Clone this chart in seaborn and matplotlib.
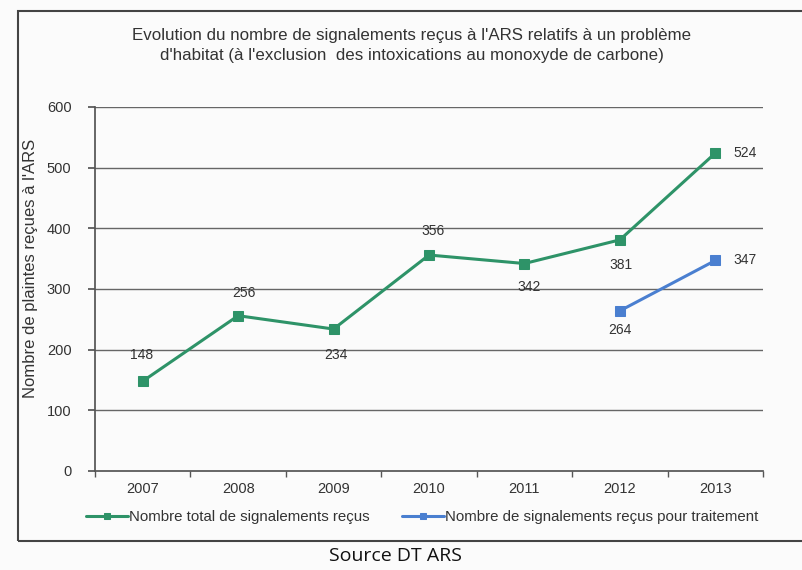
import matplotlib
matplotlib.use("Agg")
import matplotlib.pyplot as plt
import seaborn as sns
import pandas as pd
import numpy as np
from matplotlib.patches import Rectangle

years = ["2007", "2008", "2009", "2010", "2011", "2012", "2013"]
total = [148, 256, 234, 356, 342, 381, 524]
trait_years = ["2012", "2013"]
traitement = [264, 347]
yticks = [0, 100, 200, 300, 400, 500, 600]

sns.set_theme(style="white")
plt.rcParams['font.family'] = ['Liberation Sans', 'DejaVu Sans']

W, H = 802, 570
fig = plt.figure(figsize=(W / 100, H / 100), dpi=100)
fig.patch.set_facecolor("#fbfbfb")
ax = fig.add_axes([95 / W, 1 - 471 / H, (763 - 95) / W, (471 - 107) / H])
ax.set_facecolor("#fbfbfb")

green = "#2e9368"
blue = "#4a7fd0"

xpos = {y: i for i, y in enumerate(years)}
df1 = pd.DataFrame({"x": [xpos[y] for y in years], "val": total})
df2 = pd.DataFrame({"x": [xpos[y] for y in trait_years], "val": traitement})

sns.lineplot(data=df1, x="x", y="val", ax=ax, color=green, lw=2.2,
             marker="s", markersize=7, markeredgecolor=green, label="Nombre total de signalements reçus")
sns.lineplot(data=df2, x="x", y="val", ax=ax, color=blue, lw=2.2,
             marker="s", markersize=7, markeredgecolor=blue, label="Nombre de signalements reçus pour traitement")

ax.set_xlim(-0.5, 6.5)
ax.set_ylim(0, 600)
ax.set_yticks(yticks)
ax.set_yticklabels([str(v) for v in yticks], fontsize=10.5, color="#333333")
ax.set_xticks(range(len(years)))
ax.set_xticklabels(years, fontsize=10.5, color="#333333")
ax.set_xticks(np.arange(-0.5, 7, 1.0), minor=True)
ax.tick_params(axis="y", left=True, length=5, color="#555555", pad=12)
ax.tick_params(axis="x", which="major", bottom=False, pad=2)
ax.tick_params(axis="x", which="minor", bottom=True, length=4, color="#555555")
for v in yticks[1:]:
    ax.axhline(v, color="#666666", lw=1.0, zorder=0)
for s in ["top", "right"]:
    ax.spines[s].set_visible(False)
ax.spines["left"].set_color("#555555")
ax.spines["bottom"].set_color("#555555")
ax.set_xlabel("")
ax.set_ylabel("Nombre de plaintes reçues à l'ARS", fontsize=12, color="#333333")
ax.yaxis.set_label_coords((38 - 95) / (763 - 95), (471 - 268) / (471 - 107))

lab_kw = dict(fontsize=10, color="#333333", textcoords="offset points")
offsets_total = [(-1, 14, "center", "bottom"), (4, 11, "center", "bottom"), (2, -19, "center", "center"),
                 (3, 12, "center", "bottom"), (3, -12, "center", "top"), (1, -13, "center", "top"),
                 (13, 0, "left", "center")]
for i, v in enumerate(total):
    dx, dy, ha, va = offsets_total[i]
    ax.annotate(str(v), (i, v), xytext=(dx, dy), ha=ha, va=va, **lab_kw)
offsets_tr = [(0, -9, "center", "top"), (13, 0, "left", "center")]
for y, v, (dx, dy, ha, va) in zip(trait_years, traitement, offsets_tr):
    ax.annotate(str(v), (xpos[y], v), xytext=(dx, dy), ha=ha, va=va, **lab_kw)

leg = ax.legend(loc="upper center", bbox_to_anchor=(0.49, -0.07), ncol=2, frameon=False,
                fontsize=10.8, handlelength=2.8, handletextpad=0.05, columnspacing=2.2,
                markerscale=0.55)
for t in leg.get_texts():
    t.set_color("#333333")

fig.text(412 / W, 1 - 45.5 / H,
         "Evolution du nombre de signalements reçus à l'ARS relatifs à un problème\n"
         "d'habitat (à l'exclusion  des intoxications au monoxyde de carbone)",
         ha="center", va="center", fontsize=12.2, color="#333333", linespacing=1.35)

fig.patches.append(Rectangle((18 / W, 1 - 541 / H), (820 - 18) / W, (541 - 11) / H,
                             transform=fig.transFigure, fill=False, edgecolor="#444444", lw=1.5))

fig.text(395 / W, 1 - 556 / H, "Source DT ARS", ha="center", va="center", fontsize=14,
         color="#111111", family=["Open Sans", "DejaVu Sans"])

fig.savefig("out.png", dpi=100, facecolor=fig.get_facecolor())
